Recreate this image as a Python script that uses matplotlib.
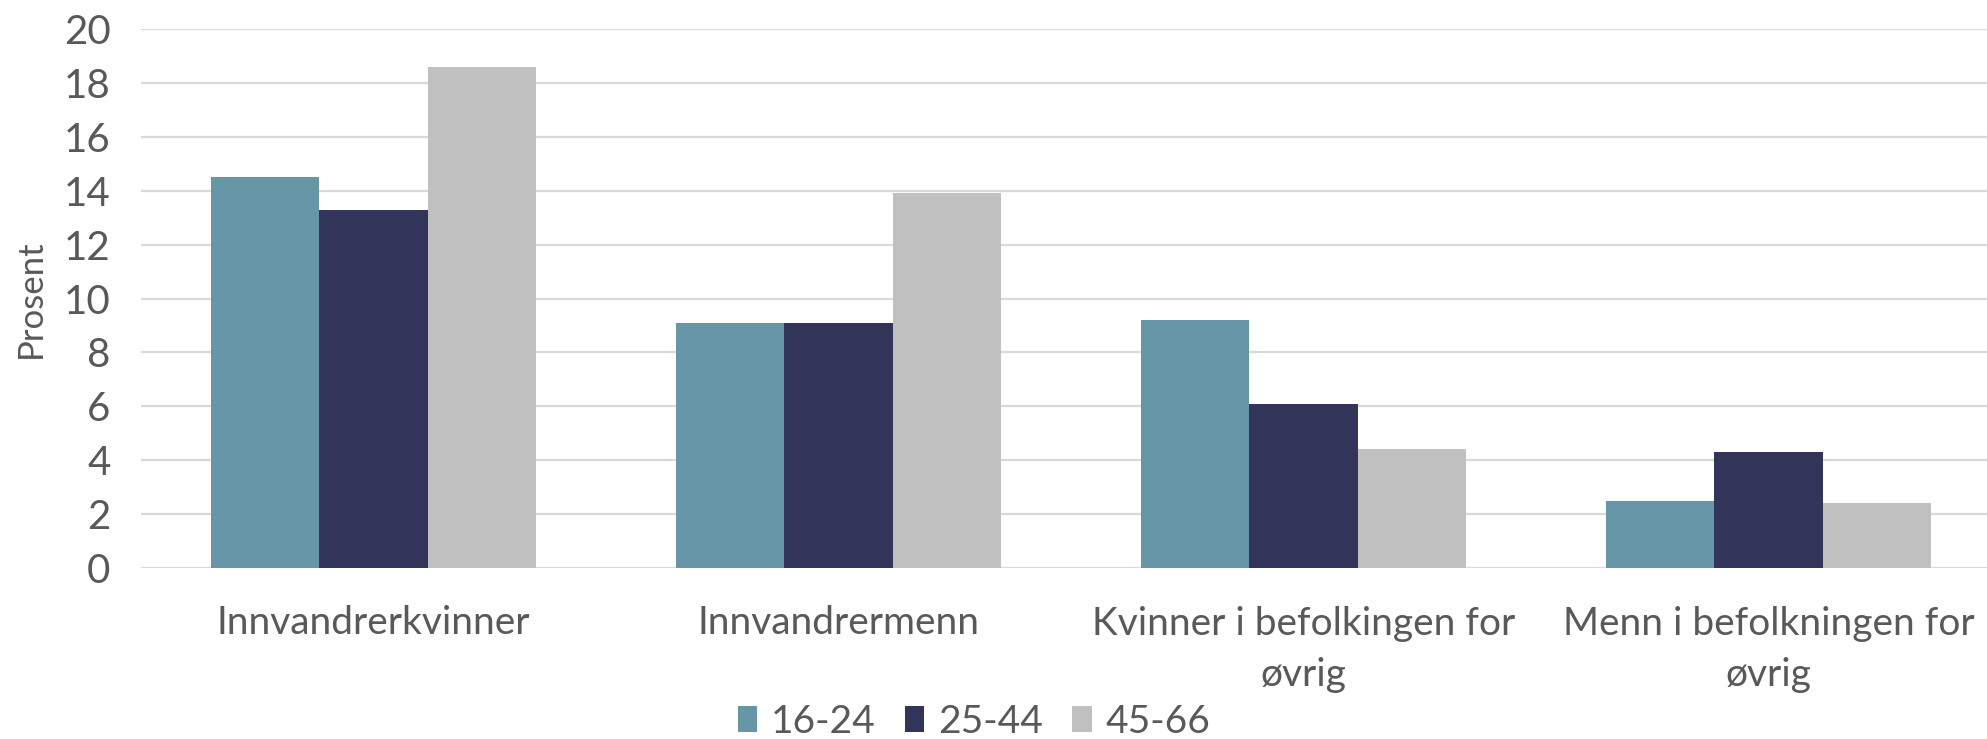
import matplotlib.pyplot as plt
import numpy as np

# Data
categories = ["Innvandrerkvinner", "Innvandrermenn",
              "Kvinner i befolkingen for\nøvrig", "Menn i befolkningen for\nøvrig"]
age_groups = ["16-24", "25-44", "45-66"]
vals_16_24 = [14.5, 9.1, 9.2, 2.5]
vals_25_44 = [13.3, 9.1, 6.1, 4.3]
vals_45_66 = [18.6, 13.9, 4.4, 2.4]
yticks = [0, 2, 4, 6, 8, 10, 12, 14, 16, 18, 20]

colors = ["#6796A6", "#33345A", "#BFC0BF"]
text_color = "#595959"

plt.rcParams["font.family"] = ["Lato", "DejaVu Sans"]

fig = plt.figure(figsize=(19.87, 7.39), dpi=100)
W, H = 1987, 739
# axes placed in pixel terms; right edge runs past the figure like the reference crop
ax = fig.add_axes([141 / W, 1 - 568 / H, (2001 - 141) / W, (568 - 29) / H])

x = np.arange(len(categories))
bw = 0.233
series = [vals_16_24, vals_25_44, vals_45_66]
for i, (vals, col, lab) in enumerate(zip(series, colors, age_groups)):
    ax.bar(x + (i - 1) * bw, vals, width=bw, color=col, label=lab, zorder=3)

ax.set_xlim(-0.5, len(categories) - 0.5)
ax.set_ylim(0, 20)
ax.set_yticks(yticks)
ax.yaxis.grid(True, color="#D9D9D9", linewidth=1.6, zorder=0)
ax.set_axisbelow(True)
for s in ax.spines.values():
    s.set_visible(False)
ax.tick_params(axis="both", length=0, colors=text_color)
ax.tick_params(axis="y", pad=22, labelsize=29)
ax.tick_params(axis="x", pad=27, labelsize=28)
ax.set_xticks(x)
ax.set_xticklabels(categories, linespacing=1.55)
ax.set_ylabel("Prosent", color=text_color, fontsize=25, labelpad=12)

fig.legend(loc="center", bbox_to_anchor=(974 / W, 1 - 722 / H), ncol=3,
           frameon=False, fontsize=28, labelcolor=text_color,
           handlelength=0.5, handleheight=0.65, handletextpad=0.35,
           columnspacing=0.75)

fig.savefig("out.png", dpi=100)
